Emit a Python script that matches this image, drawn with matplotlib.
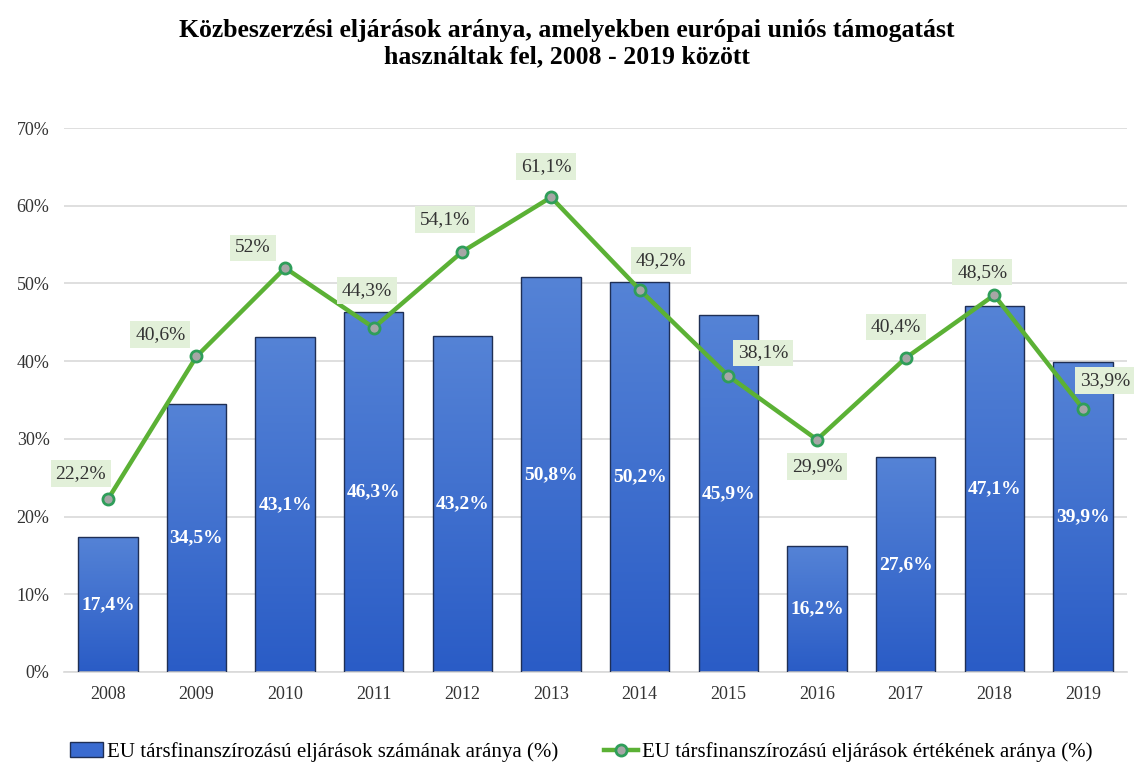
import numpy as np
import matplotlib
matplotlib.use("Agg")
import matplotlib.pyplot as plt
from matplotlib.colors import LinearSegmentedColormap
from matplotlib.patches import Patch

plt.rcParams['font.family'] = ['Liberation Serif', 'DejaVu Serif']

# Data
years = ['2008', '2009', '2010', '2011', '2012', '2013', '2014', '2015', '2016', '2017', '2018', '2019']
count_share = [17.4, 34.5, 43.1, 46.3, 43.2, 50.8, 50.2, 45.9, 16.2, 27.6, 47.1, 39.9]
value_share = [22.2, 40.6, 52.0, 44.3, 54.1, 61.1, 49.2, 38.1, 29.9, 40.4, 48.5, 33.9]
count_labels = ['17,4%', '34,5%', '43,1%', '46,3%', '43,2%', '50,8%', '50,2%', '45,9%', '16,2%', '27,6%', '47,1%', '39,9%']
value_labels = ['22,2%', '40,6%', '52%', '44,3%', '54,1%', '61,1%', '49,2%', '38,1%', '29,9%', '40,4%', '48,5%', '33,9%']

# label offsets (pixels) for the line labels
value_offsets = [(-27, 26), (-36, 22), (-32, 20), (-7, 37), (-17, 32), (-5, 31),
                 (21, 29), (35, 23), (0, -27), (-10, 31), (-12, 23), (22, 28)]

bar_label = 'EU társfinanszírozású eljárások számának aránya (%)'
line_label = 'EU társfinanszírozású eljárások értékének aránya (%)'

fig = plt.figure(figsize=(11.34, 7.67), dpi=100)
ax = fig.add_axes([0.056, 0.124, 0.938, 0.709])

x = np.arange(len(years))
bars = ax.bar(x, count_share, width=0.67, color='none', edgecolor='#1f2f55',
              linewidth=1.0, zorder=3)

# vertical gradient inside bars
cmap = LinearSegmentedColormap.from_list('bluegrad', ['#2a5cc6', '#5583d6'])
grad = np.linspace(0, 1, 256).reshape(-1, 1)
for b in bars:
    bx, by = b.get_x(), b.get_y()
    w, h = b.get_width(), b.get_height()
    im = ax.imshow(grad, cmap=cmap, aspect='auto', origin='lower',
                   extent=[bx, bx + w, by, by + h], zorder=2)
    im.set_clip_path(b)

for xi, v, lab in zip(x, count_share, count_labels):
    ax.text(xi, v / 2, lab, ha='center', va='center', color='white',
            fontsize=14, fontweight='bold', zorder=5)

line, = ax.plot(x, value_share, color='#5bb135', linewidth=3.2, marker='o', markersize=8,
                markerfacecolor='#a6a6a6', markeredgecolor='#2f9e5a', markeredgewidth=2,
                zorder=6)

for xi, v, lab, off in zip(x, value_share, value_labels, value_offsets):
    ax.annotate(lab, (xi, v), xytext=off, textcoords='offset pixels',
                ha='center', va='center', fontsize=14, color='#333333', zorder=7,
                bbox=dict(boxstyle='square,pad=0.25', facecolor='#e2f0d9', edgecolor='none'))

ax.set_xlim(-0.5, 11.5)
ax.set_ylim(0, 70)
ax.set_xticks(x)
ax.set_xticklabels(years, fontsize=13)
ax.set_yticks(np.arange(0, 71, 10))
ax.set_yticklabels([f'{v}%' for v in range(0, 71, 10)], fontsize=13)
ax.tick_params(length=0, pad=10, colors='#333333')
ax.yaxis.grid(True, color='#d9d9d9', linewidth=1.2, zorder=0)
ax.set_axisbelow(True)
for s in ['top', 'right', 'left']:
    ax.spines[s].set_visible(False)
ax.spines['bottom'].set_color('#d9d9d9')
ax.spines['bottom'].set_linewidth(1.2)

fig.suptitle('Közbeszerzési eljárások aránya, amelyekben európai uniós támogatást\n'
             'használtak fel, 2008 - 2019 között', y=0.975, fontsize=18.5, fontweight='bold')

bar_handle = Patch(facecolor='#3a6bd0', edgecolor='#1f2f55', linewidth=1.0)
fig.legend([bar_handle, line], [bar_label, line_label], loc='lower left',
           bbox_to_anchor=(0.045, -0.018), ncol=2, frameon=False,
           fontsize=15, columnspacing=2.2, handlelength=1.6, handletextpad=0.2)

fig.savefig('out.png', dpi=100)
